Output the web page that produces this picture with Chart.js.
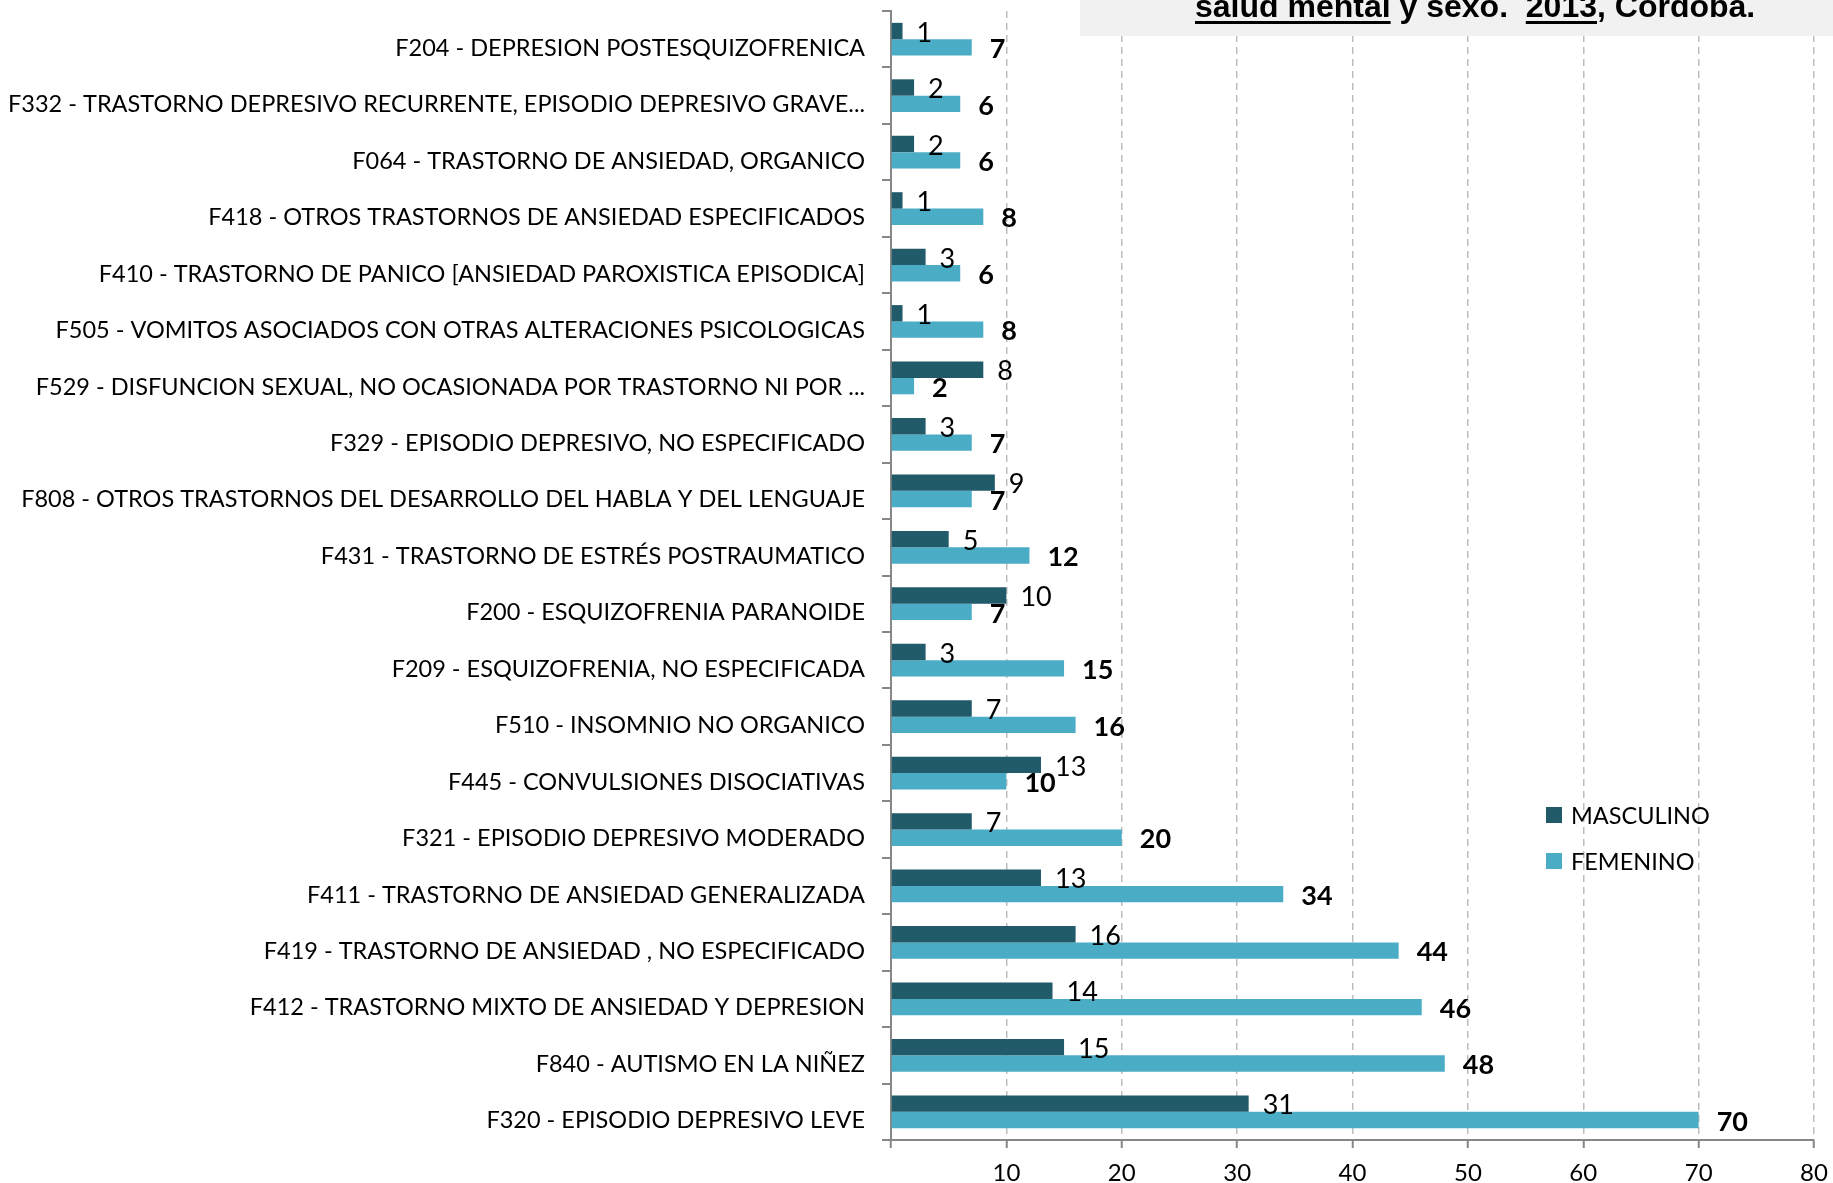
<!DOCTYPE html>
<html lang="es">
<head>
<meta charset="UTF-8">
<title>Diagnósticos de salud mental por sexo 2013, Córdoba</title>
<script src="https://cdn.jsdelivr.net/npm/chart.js"></script>
<style>
    * { margin: 0; padding: 0; box-sizing: border-box; }
    body { background: #fff; width: 1833px; height: 1183px; overflow: hidden; }
    canvas { display: block; }
</style>
</head>
<body>
<canvas id="chart" width="1833" height="1183"></canvas>
<script>
    // diagnósticos, de arriba hacia abajo
    const categorias = [
        "F204 - DEPRESION POSTESQUIZOFRENICA",
        "F332 - TRASTORNO DEPRESIVO RECURRENTE, EPISODIO DEPRESIVO GRAVE...",
        "F064 - TRASTORNO DE ANSIEDAD, ORGANICO",
        "F418 - OTROS TRASTORNOS DE ANSIEDAD ESPECIFICADOS",
        "F410 - TRASTORNO DE PANICO [ANSIEDAD PAROXISTICA EPISODICA]",
        "F505 - VOMITOS ASOCIADOS CON OTRAS ALTERACIONES PSICOLOGICAS",
        "F529 - DISFUNCION SEXUAL, NO OCASIONADA POR TRASTORNO NI POR ...",
        "F329 - EPISODIO DEPRESIVO, NO ESPECIFICADO",
        "F808 - OTROS TRASTORNOS DEL DESARROLLO DEL HABLA Y DEL LENGUAJE",
        "F431 - TRASTORNO DE ESTRÉS POSTRAUMATICO",
        "F200 - ESQUIZOFRENIA PARANOIDE",
        "F209 - ESQUIZOFRENIA, NO ESPECIFICADA",
        "F510 - INSOMNIO NO ORGANICO",
        "F445 - CONVULSIONES DISOCIATIVAS",
        "F321 - EPISODIO DEPRESIVO MODERADO",
        "F411 - TRASTORNO DE ANSIEDAD GENERALIZADA",
        "F419 - TRASTORNO DE ANSIEDAD , NO ESPECIFICADO",
        "F412 - TRASTORNO MIXTO DE ANSIEDAD Y DEPRESION",
        "F840 - AUTISMO EN LA NIÑEZ",
        "F320 - EPISODIO DEPRESIVO LEVE"
    ];
    const masculino = [1, 2, 2, 1, 3, 1, 8, 3, 9, 5, 10, 3, 7, 13, 7, 13, 16, 14, 15, 31];
    const femenino  = [7, 6, 6, 8, 6, 8, 2, 7, 7, 12, 7, 15, 16, 10, 20, 34, 44, 46, 48, 70];
    const ejeX = [10, 20, 30, 40, 50, 60, 70, 80];

    const tituloPartes = [
        ["salud mental", true],
        [" y sexo.  ", false],
        ["2013", true],
        [", Cordoba.", false]
    ];

    const FUENTE = "Lato, 'Liberation Sans', sans-serif";
    const FUENTE_TIT = "'Liberation Sans', Arial, sans-serif";
    const GRIS_EJE = '#878787';

    // etiquetas de valor al final de cada barra
    const etiquetas = {
        id: 'etiquetas',
        afterDatasetsDraw(chart) {
            const ctx = chart.ctx;
            ctx.save();
            ctx.textBaseline = 'middle';
            ctx.textAlign = 'left';
            ctx.fillStyle = '#000';
            chart.data.datasets.forEach((ds, i) => {
                const meta = chart.getDatasetMeta(i);
                const negrita = i === 1;
                ctx.font = (negrita ? 'bold 27px ' : '27px ') + FUENTE;
                meta.data.forEach((bar, j) => {
                    const dx = negrita ? 18 : 14;
                    ctx.fillText(String(ds.data[j]), bar.x + dx, bar.y + 2);
                });
            });
            ctx.restore();
        }
    };

    // cuadro del título (recortado arriba) y leyenda
    const extras = {
        id: 'extras',
        afterDraw(chart) {
            const ctx = chart.ctx;
            ctx.save();
            ctx.fillStyle = '#f1f1f1';
            ctx.fillRect(1080, 0, 1833 - 1080, 36);

            ctx.font = 'bold 32px ' + FUENTE_TIT;
            ctx.fillStyle = '#000';
            ctx.textBaseline = 'alphabetic';
            ctx.textAlign = 'left';
            let x = 1195;
            tituloPartes.forEach(([txt, sub]) => {
                const w = ctx.measureText(txt).width;
                ctx.fillText(txt, x, 17);
                if (sub) ctx.fillRect(x, 21, w, 3);
                x += w;
            });

            ctx.font = '23.5px ' + FUENTE;
            ctx.textBaseline = 'middle';
            const ys = [815, 861];
            chart.data.datasets.forEach((ds, i) => {
                ctx.fillStyle = ds.backgroundColor;
                ctx.fillRect(1546, ys[i] - 8, 16, 16);
                ctx.fillStyle = '#000';
                ctx.fillText(ds.label, 1571, ys[i] + 1);
            });
            ctx.restore();
        }
    };

    new Chart(document.getElementById('chart').getContext('2d'), {
        type: 'bar',
        data: {
            labels: categorias,
            datasets: [
                { label: 'MASCULINO', data: masculino, backgroundColor: '#215a69' },
                { label: 'FEMENINO', data: femenino, backgroundColor: '#4bacc6' }
            ]
        },
        options: {
            indexAxis: 'y',
            responsive: false,
            animation: false,
            devicePixelRatio: 1,
            layout: { padding: { top: 11, right: 19, left: 0, bottom: 0 } },
            datasets: { bar: { categoryPercentage: 0.58, barPercentage: 1.0 } },
            plugins: {
                legend: { display: false },
                tooltip: { enabled: false }
            },
            scales: {
                x: {
                    min: 0,
                    max: 80,
                    afterFit: s => {
                        s.height = 43;
                        s.paddingRight = 0;
                    },
                    ticks: {
                        stepSize: 10,
                        autoSkip: false,
                        maxRotation: 0,
                        padding: 11,
                        color: '#000',
                        font: { family: FUENTE, size: 24 },
                        callback: v => ejeX.includes(v) ? String(v) : ''
                    },
                    grid: {
                        color: c => (c.tick && c.tick.value === 0) ? 'rgba(0,0,0,0)' : '#bdbdbd',
                        lineWidth: 1.5,
                        tickColor: GRIS_EJE,
                        tickLength: 8,
                        tickWidth: 2
                    },
                    border: { color: GRIS_EJE, width: 2, dash: [7, 5] }
                },
                y: {
                    afterFit: s => {
                        s.width = 891;
                        s.paddingTop = 0;
                        s.paddingBottom = 0;
                    },
                    ticks: {
                        autoSkip: false,
                        padding: 17,
                        labelOffset: 9,
                        color: '#000',
                        font: { family: FUENTE, size: 23.5 }
                    },
                    grid: {
                        drawOnChartArea: false,
                        color: GRIS_EJE,
                        tickLength: 9,
                        lineWidth: 2
                    },
                    border: { color: GRIS_EJE, width: 2 }
                }
            }
        },
        plugins: [etiquetas, extras]
    });
</script>
</body>
</html>
